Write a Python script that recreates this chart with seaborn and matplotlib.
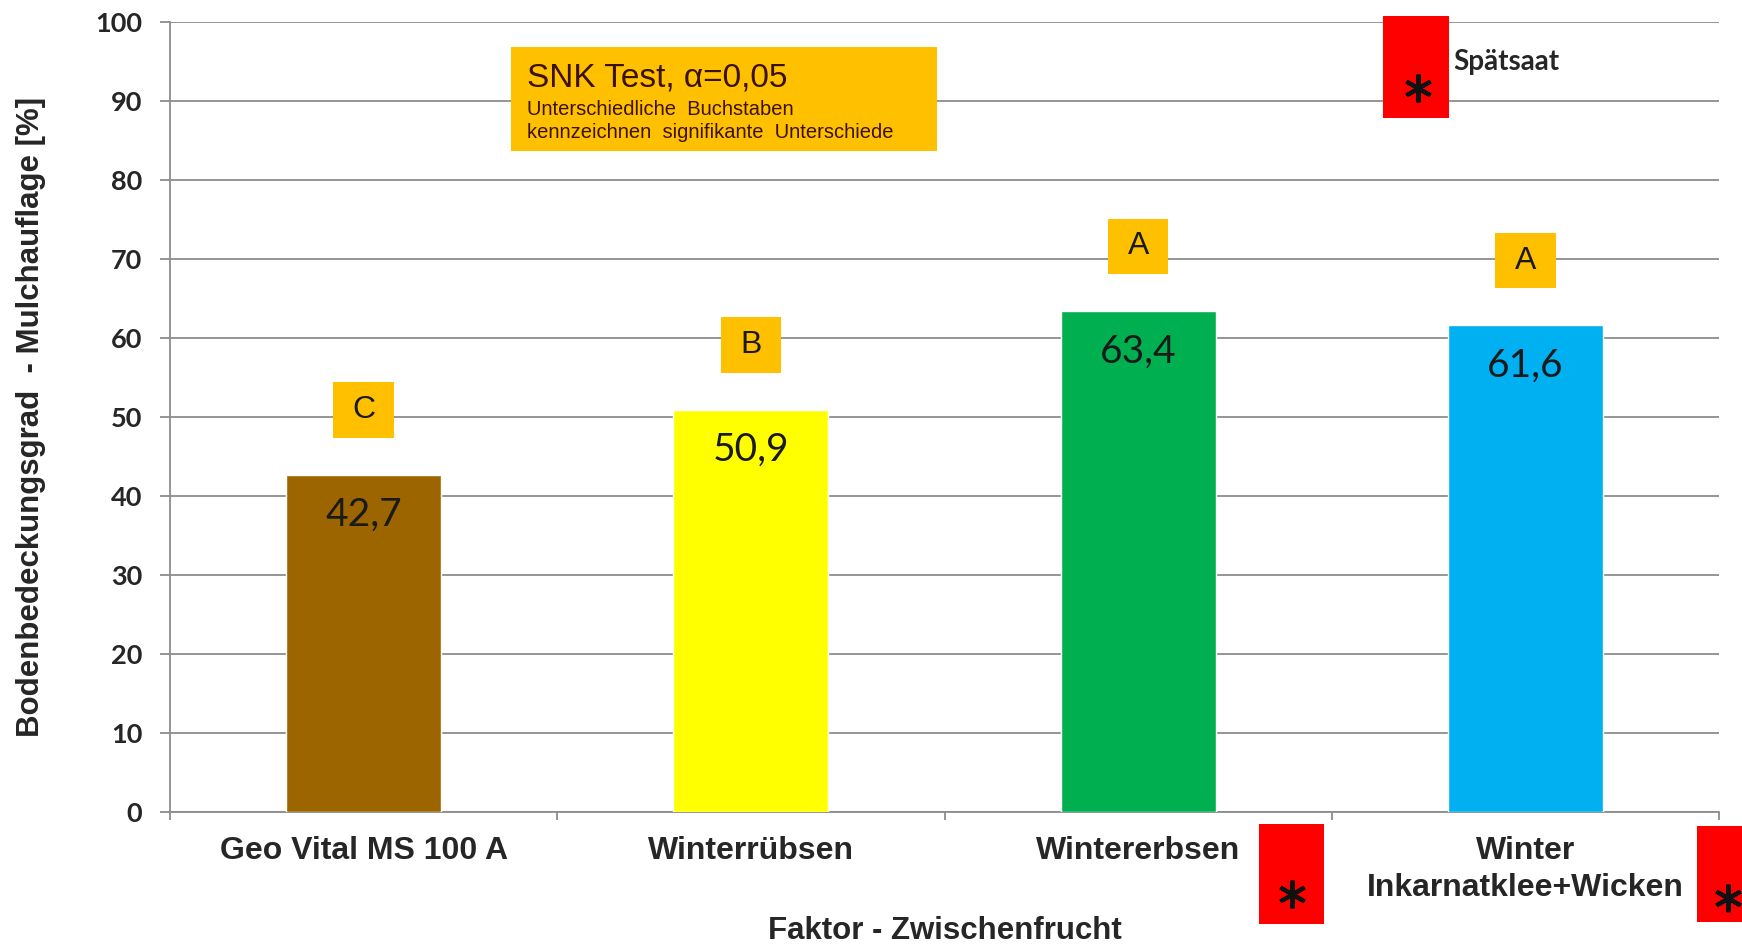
import matplotlib
matplotlib.use("Agg")
import matplotlib.pyplot as plt
from matplotlib import font_manager
from matplotlib.patches import Rectangle
import seaborn as sns
import pandas as pd

# ---- data ----
categories = ["Geo Vital MS 100 A", "Winterrübsen", "Wintererbsen", "Winter\nInkarnatklee+Wicken"]
values = [42.7, 50.9, 63.4, 61.6]
value_labels = ["42,7", "50,9", "63,4", "61,6"]
snk_letters = ["C", "B", "A", "A"]
bar_colors = ["#9C6500", "#FFFF00", "#00B050", "#00B0F0"]
y_ticks = [0, 10, 20, 30, 40, 50, 60, 70, 80, 90, 100]
y_label = "Bodenbedeckungsgrad  - Mulchauflage [%]"
x_label = "Faktor - Zwischenfrucht"
legend_text = "Spätsaat"
snk_title = "SNK Test, α=0,05"
snk_sub = "Unterschiedliche  Buchstaben\nkennzeichnen  signifikante  Unterschiede"

available = {f.name for f in font_manager.fontManager.ttflist}
def pick(*names):
    for n in names:
        if n in available:
            return n
    return "DejaVu Sans"

narrow = pick("Liberation Sans Narrow", "Liberation Sans")
arial = pick("Liberation Sans", "DejaVu Sans")
calibri = pick("Lato", "Open Sans", "DejaVu Sans")

sns.set_theme(style="white")
plt.rcParams["font.family"] = [arial, "DejaVu Sans"]

df = pd.DataFrame({"cat": categories, "val": values})

fig = plt.figure(figsize=(17.42, 9.47), dpi=100)
fig.patch.set_facecolor("white")
ax = fig.add_axes([170 / 1742, 1 - 812 / 947, (1719 - 170) / 1742, (812 - 22) / 947])

sns.barplot(data=df, x="cat", y="val", hue="cat", palette=bar_colors,
            width=0.4, legend=False, ax=ax, saturation=1, zorder=3)

ax.set_ylim(0, 100)
ax.set_xlim(-0.5, len(categories) - 0.5)
ax.set_yticks(y_ticks)
ax.set_yticklabels([str(t) for t in y_ticks], fontfamily=calibri, fontweight="bold", fontsize=19.5)
ax.yaxis.grid(True, color="#8c8c8c", linewidth=1.3, zorder=0)
ax.set_axisbelow(True)
ax.tick_params(axis="y", length=7, width=1.3, color="#8c8c8c", pad=13, left=True)

ax.set_xticks(range(len(categories)))
ax.set_xticklabels(categories, fontfamily=narrow, fontweight="bold", fontsize=23, linespacing=1.3)
ax.tick_params(axis="x", which="major", length=0, pad=17)
ax.set_xticks([i - 0.5 for i in range(len(categories) + 1)], minor=True)
ax.tick_params(axis="x", which="minor", length=6, width=1.3, color="#8c8c8c", bottom=True)

for side in ["top", "right"]:
    ax.spines[side].set_visible(False)
for side in ["left", "bottom"]:
    ax.spines[side].set_color("#8c8c8c")
    ax.spines[side].set_linewidth(1.3)

ax.set_ylabel(y_label, fontfamily=arial, fontweight="bold", fontsize=22.5)
ax.yaxis.set_label_coords(-0.080, 0.5)
ax.set_xlabel(x_label, fontfamily=narrow, fontweight="bold", fontsize=22.5, va="center")
ax.xaxis.set_label_coords(0.5, -0.150)

# value labels and SNK letters
for i, (v, lab, let) in enumerate(zip(values, value_labels, snk_letters)):
    ax.text(i, v - 5.1, lab, ha="center", va="center", fontsize=28,
            fontfamily=calibri, color="#1a1a1a", zorder=5)
    ly = v + 8.2
    ax.add_patch(Rectangle((i - 0.078, ly - 3.5), 0.156, 7.0, facecolor="#FFC000",
                           edgecolor="none", zorder=4, clip_on=False))
    ax.text(i, ly, let, ha="center", va="center", fontsize=23, fontfamily=arial,
            color="#1a1a1a", zorder=5)

# SNK info box
ax.add_patch(Rectangle((0.220, 0.837), 0.275, 0.131, transform=ax.transAxes,
                       facecolor="#FFC000", edgecolor="none", zorder=4, clip_on=False))
ax.text(0.2305, 0.929, snk_title, transform=ax.transAxes, fontsize=24, fontfamily=arial,
        color="#3b1200", ha="left", va="center", zorder=5)
ax.text(0.2305, 0.875, snk_sub, transform=ax.transAxes, fontsize=14.5, fontfamily=arial,
        color="#3b1200", ha="left", va="center", linespacing=1.25, zorder=5)

# red "Spätsaat" markers (figure pixel coordinates)
W, H = 1742, 947
def red_box(x0, y0, x1, y1, sx, sy):
    fig.patches.append(Rectangle((x0 / W, 1 - y1 / H), (x1 - x0) / W, (y1 - y0) / H,
                                 transform=fig.transFigure, facecolor="#FF0000",
                                 edgecolor="none", zorder=10))
    fig.lines.append(plt.Line2D([sx / W], [1 - sy / H], transform=fig.transFigure,
                                marker=(6, 2, 0), markersize=20, markeredgewidth=3.0,
                                color="#111111", linestyle="none", zorder=11))

red_box(1383, 16, 1449, 118, 1418, 88)
fig.text(1453 / W, 1 - 62 / H, legend_text, fontsize=20, fontweight="bold",
         fontfamily=calibri, ha="left", va="center")
red_box(1259, 824, 1324, 924, 1292, 894)
red_box(1697, 826, 1760, 922, 1728, 898)

fig.savefig("out.png", dpi=100, facecolor="white")
